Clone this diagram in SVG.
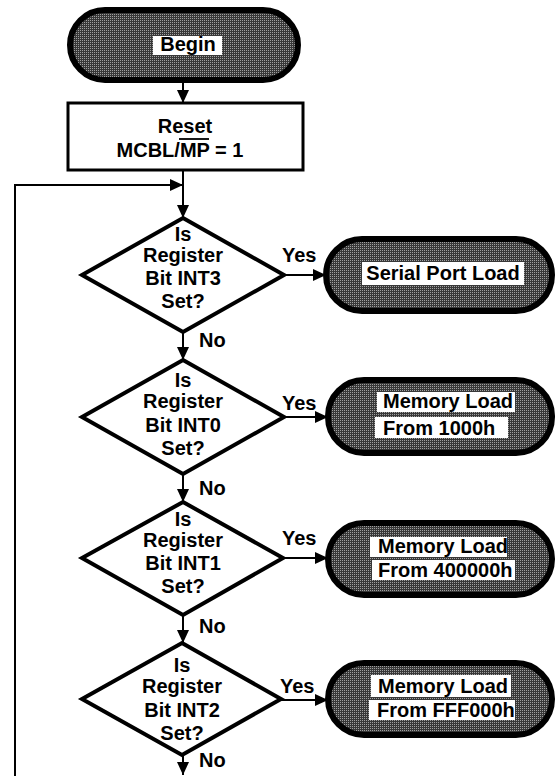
<svg xmlns="http://www.w3.org/2000/svg" width="556" height="776" viewBox="0 0 556 776">
<defs>
<pattern id="stip" width="2" height="2" patternUnits="userSpaceOnUse">
<rect width="2" height="2" fill="#383838"/>
<rect width="1" height="1" fill="#a0a0a0"/>
</pattern>
<marker id="ah" markerUnits="userSpaceOnUse" markerWidth="14" markerHeight="12" refX="13" refY="6" orient="auto">
<path d="M0,0 L13,6 L0,12 Z" fill="#000"/>
</marker>
</defs>
<style>
.t{font-family:"Liberation Sans",Arial,sans-serif;font-weight:bold;font-size:20px;fill:#000}
.c{text-anchor:middle}
.term{fill:url(#stip);stroke:#000;stroke-width:6}
.box{fill:#fff}
.dia{fill:#fff;stroke:#000;stroke-width:4;stroke-linejoin:miter}
.conn{fill:none;stroke:#000;stroke-width:2}
</style>
<rect width="556" height="776" fill="#fff"/>

<g id="connectors">
<line class="conn" x1="183" y1="80" x2="183" y2="103" marker-end="url(#ah)"/>
<line class="conn" x1="183" y1="170" x2="183" y2="218" marker-end="url(#ah)"/>
<polyline class="conn" points="15,776 15,185 183,185" marker-end="url(#ah)"/>
<line class="conn" x1="183" y1="333" x2="183" y2="360" marker-end="url(#ah)"/>
<line class="conn" x1="183" y1="474" x2="183" y2="502" marker-end="url(#ah)"/>
<line class="conn" x1="183" y1="615" x2="183" y2="643" marker-end="url(#ah)"/>
<line class="conn" x1="183" y1="755" x2="183" y2="775" marker-end="url(#ah)"/>
<line class="conn" x1="285" y1="275" x2="326" y2="275" marker-end="url(#ah)"/>
<line class="conn" x1="284" y1="417" x2="328" y2="417" marker-end="url(#ah)"/>
<line class="conn" x1="283" y1="558" x2="328" y2="558" marker-end="url(#ah)"/>
<line class="conn" x1="281" y1="700" x2="328" y2="700" marker-end="url(#ah)"/>
<text class="t" x="282" y="262">Yes</text>
<text class="t" x="282" y="410">Yes</text>
<text class="t" x="282" y="545">Yes</text>
<text class="t" x="280" y="693">Yes</text>
<text class="t" x="199" y="347">No</text>
<text class="t" x="199" y="495">No</text>
<text class="t" x="199" y="633">No</text>
<text class="t" x="199" y="767">No</text>
</g>

<g id="begin">
<rect class="term" x="70" y="10" width="228" height="70" rx="35"/>
<rect class="box" x="153" y="36" width="69" height="19"/>
<text class="t c" x="188" y="51">Begin</text>
</g>

<g id="reset">
<rect x="68" y="103" width="235" height="67" fill="#fff" stroke="#000" stroke-width="3"/>
<text class="t c" x="185" y="133">Reset</text>
<text class="t c" x="180" y="157">MCBL/MP = 1</text>
<line x1="179" y1="139" x2="209" y2="139" stroke="#000" stroke-width="1.8"/>
</g>

<g id="int3">
<polygon class="dia" points="183,218 284,275 183,332 82,275"/>
<text class="t c" x="183" y="241">Is</text>
<text class="t c" x="183" y="262">Register</text>
<text class="t c" x="183" y="285">Bit INT3</text>
<text class="t c" x="183" y="308">Set?</text>
</g>

<g id="int0">
<polygon class="dia" points="183,360 284,417 183,474 82,417"/>
<text class="t c" x="183" y="387">Is</text>
<text class="t c" x="183" y="408">Register</text>
<text class="t c" x="183" y="432">Bit INT0</text>
<text class="t c" x="183" y="455">Set?</text>
</g>

<g id="int1">
<polygon class="dia" points="183,502 283,558 183,615 82,558"/>
<text class="t c" x="183" y="526">Is</text>
<text class="t c" x="183" y="547">Register</text>
<text class="t c" x="183" y="570">Bit INT1</text>
<text class="t c" x="183" y="593">Set?</text>
</g>

<g id="int2">
<polygon class="dia" points="182,643 281,699 182,755 82,699"/>
<text class="t c" x="182" y="672">Is</text>
<text class="t c" x="182" y="693">Register</text>
<text class="t c" x="182" y="717">Bit INT2</text>
<text class="t c" x="182" y="740">Set?</text>
</g>

<g id="serial">
<rect class="term" x="326" y="239" width="226" height="72" rx="36"/>
<rect class="box" x="362" y="262" width="162" height="23"/>
<text class="t c" x="443" y="280">Serial Port Load</text>
</g>

<g id="mem1000">
<rect class="term" x="328" y="380" width="224" height="73" rx="36"/>
<rect class="box" x="377" y="392" width="138" height="20"/>
<rect class="box" x="375" y="417" width="133" height="21"/>
<text class="t" x="383" y="408">Memory Load</text>
<text class="t" x="383" y="435">From 1000h</text>
</g>

<g id="mem400000">
<rect class="term" x="328" y="523" width="224" height="72" rx="36"/>
<rect class="box" x="370" y="537" width="137" height="20"/>
<rect class="box" x="372" y="560" width="143" height="20"/>
<text class="t" x="378" y="553">Memory Load</text>
<text class="t" x="378" y="577">From 400000h</text>
</g>

<g id="memFFF000">
<rect class="term" x="328" y="663" width="224" height="72" rx="36"/>
<rect class="box" x="371" y="675" width="140" height="22"/>
<rect class="box" x="369" y="700" width="146" height="20"/>
<text class="t" x="378" y="693">Memory Load</text>
<text class="t" x="377" y="717">From FFF000h</text>
</g>
</svg>
